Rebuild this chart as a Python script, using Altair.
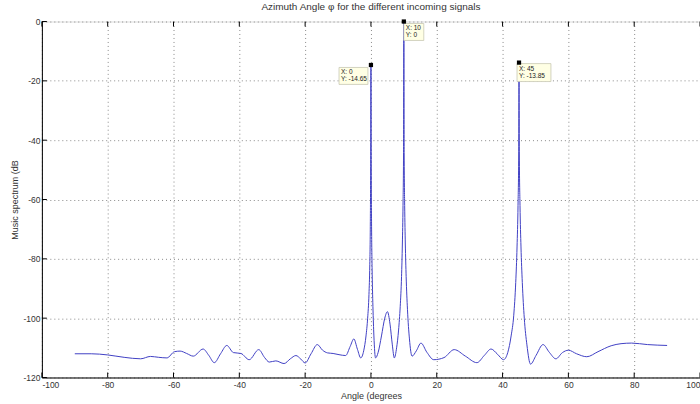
import altair as alt
import pandas as pd

# --- data ---
angle = [-90, -85, -80, -75, -70, -67, -64.5, -62, -59.7, -58, -56, -54, -51, -49.3, -47.6,
         -45.7, -43.8, -41.8, -39.5, -37, -34.1, -32.3, -30.9, -28.9, -26.4, -24.5, -22.8,
         -21.3, -20, -18.2, -16.3, -14.7, -13.2, -11.5, -9.7, -7.7, -6.3, -5.2, -4.1, -3.1,
         -2.2, -1.5, -1.0, -0.6, -0.35, -0.2, -0.1, 0, 0.1, 0.2, 0.35, 0.6, 0.9, 1.4, 2.2,
         3.2, 4.2, 5.0, 5.8, 6.5, 7.1, 7.8, 8.4, 8.9, 9.3, 9.55, 9.75, 9.9, 10, 10.1, 10.25,
         10.45, 10.7, 11.1, 11.7, 12.5, 13.8, 15.2, 17, 19.1, 22.2, 25.3, 28.7, 32.2, 34.5,
         36.5, 38.5, 40.3, 41.6, 42.6, 43.4, 44.0, 44.4, 44.7, 44.9, 45, 45.1, 45.3, 45.6,
         46.0, 46.6, 47.4, 48.5, 50.2, 52.3, 54.2, 56.2, 58.2, 60, 62.5, 65.6, 69, 73, 76,
         79.2, 84, 90]
spectrum = [-112.0, -112.0, -112.4, -113.2, -113.7, -112.9, -113.2, -113.4, -111.3, -111.1,
            -111.9, -112.8, -110.4, -112.5, -115.0, -112.0, -109.2, -111.6, -111.9, -114.0,
            -110.6, -113.3, -114.8, -114.4, -115.3, -113.7, -112.6, -113.8, -115.1, -112.0,
            -108.9, -110.8, -111.7, -111.9, -112.3, -112.6, -109.5, -107.0, -110.5, -113.4,
            -111.0, -106.0, -100.0, -92.0, -82.0, -70.0, -52.0, -14.65, -52.0, -70.0, -83.0,
            -96.0, -106.0, -113.4, -111.5, -106.0, -100.0, -97.8, -102.0, -109.0, -113.4,
            -110.0, -104.0, -96.0, -86.0, -75.0, -62.0, -45.0, 0.0, -45.0, -62.0, -75.0,
            -86.0, -97.0, -107.0, -112.8, -111.0, -108.4, -111.5, -114.0, -113.3, -110.6,
            -112.8, -115.0, -112.5, -110.4, -112.2, -114.0, -111.5, -106.0, -99.0, -88.0,
            -76.0, -62.0, -45.0, -13.85, -45.0, -62.0, -76.0, -88.0, -100.0, -109.0, -115.5,
            -112.5, -108.9, -111.5, -113.7, -111.6, -110.8, -112.0, -113.0, -111.3, -109.3,
            -108.6, -108.4, -108.9, -109.2]

tip_x = [0, 10, 45]
tip_y = [-14.65, 0, -13.85]
tip_text = ["X: 0\nY: -14.65", "X: 10\nY: 0", "X: 45\nY: -13.85"]

x_ticks = [-100, -80, -60, -40, -20, 0, 20, 40, 60, 80, 100]
y_ticks = [0, -20, -40, -60, -80, -100, -120]

df = pd.DataFrame({"angle": angle, "spectrum": spectrum})
tips = pd.DataFrame({"x": tip_x, "y": tip_y, "label": tip_text})
xt = pd.DataFrame({"t": x_ticks})
yt = pd.DataFrame({"t": y_ticks})

W, H = 660, 357
FONT = "Liberation Sans"

xscale = alt.Scale(domain=[-100, 100], nice=False, zero=False)
yscale = alt.Scale(domain=[-120, 0], nice=False, zero=False)

common = dict(grid=True, ticks=False, labelFont=FONT, labelFontSize=8.5, labelColor="#333",
              titleFont=FONT, titleFontSize=9, titleFontWeight="normal", titleColor="#333",
              domainColor="black", domainWidth=1, gridColor="#8a8a8a", gridDash=[1, 3],
              gridWidth=1, labelExpr="'' + datum.value")
xaxis = alt.Axis(values=x_ticks, title="Angle (degrees", labelPadding=3, titlePadding=3,
                 **common)
yaxis = alt.Axis(values=y_ticks, title="Music spectrum (dB", labelPadding=2, titlePadding=3,
                 **common)

line = alt.Chart(df).mark_line(color="#4040c4", strokeWidth=1, interpolate="monotone").encode(
    x=alt.X("angle:Q", scale=xscale, axis=xaxis),
    y=alt.Y("spectrum:Q", scale=yscale, axis=yaxis),
)

# inward ticks (MATLAB style)
bt = alt.Chart(xt).mark_rule(color="black", strokeWidth=1).encode(
    x=alt.X("t:Q", scale=xscale), y=alt.datum(-120), y2=alt.value(H - 5))
tt = alt.Chart(xt).mark_rule(color="black", strokeWidth=1).encode(
    x=alt.X("t:Q", scale=xscale), y=alt.datum(0), y2=alt.value(5))
lt = alt.Chart(yt).mark_rule(color="black", strokeWidth=1).encode(
    y=alt.Y("t:Q", scale=yscale), x=alt.datum(-100), x2=alt.value(5))

# data tips
layers = [line, bt, tt, lt]
box_params = [(-17.5, 11, 29, 17), (10, 10.5, 20, 17), (15, 10, 34, 18)]
for i, (ox, oy, bw, bh) in enumerate(box_params):
    sub = alt.Chart(tips).transform_filter(alt.datum.x == tip_x[i])
    hw = bw / 2.0
    s = max(bw, bh)
    path = "M{a},{b}L{c},{b}L{c},{d}L{a},{d}Z".format(
        a=-bw / s, b=-bh / s, c=bw / s, d=bh / s)
    box = sub.mark_point(shape=path, size=s * s, filled=True, fill="#ffffe4",
                         stroke="#c8c8b4", strokeWidth=0.8, opacity=1,
                         xOffset=ox, yOffset=oy).encode(
        x=alt.X("x:Q", scale=xscale), y=alt.Y("y:Q", scale=yscale))
    txt = sub.mark_text(align="left", baseline="middle", font=FONT, fontSize=6.5,
                        color="#222", lineBreak="\n", lineHeight=7,
                        dx=ox - hw + 2, dy=oy - 3.5).encode(
        x=alt.X("x:Q", scale=xscale), y=alt.Y("y:Q", scale=yscale), text="label:N")
    layers += [box, txt]

marks = alt.Chart(tips).mark_square(color="black", size=18, opacity=1).encode(
    x=alt.X("x:Q", scale=xscale), y=alt.Y("y:Q", scale=yscale))
layers.append(marks)

chart = alt.layer(*layers).properties(
    width=W, height=H,
    title=alt.TitleParams("Azimuth Angle \u03c6 for the different incoming signals",
                          font=FONT, fontSize=10, fontWeight="normal", color="#333",
                          offset=6, anchor="middle"),
    autosize=alt.AutoSizeParams(type="none"),
    padding={"left": 42, "top": 21, "right": 0, "bottom": 26},
).configure_view(stroke="black", strokeWidth=1).configure(background="white")

chart.save("out.html", embed_options={"renderer": "svg", "actions": False})
